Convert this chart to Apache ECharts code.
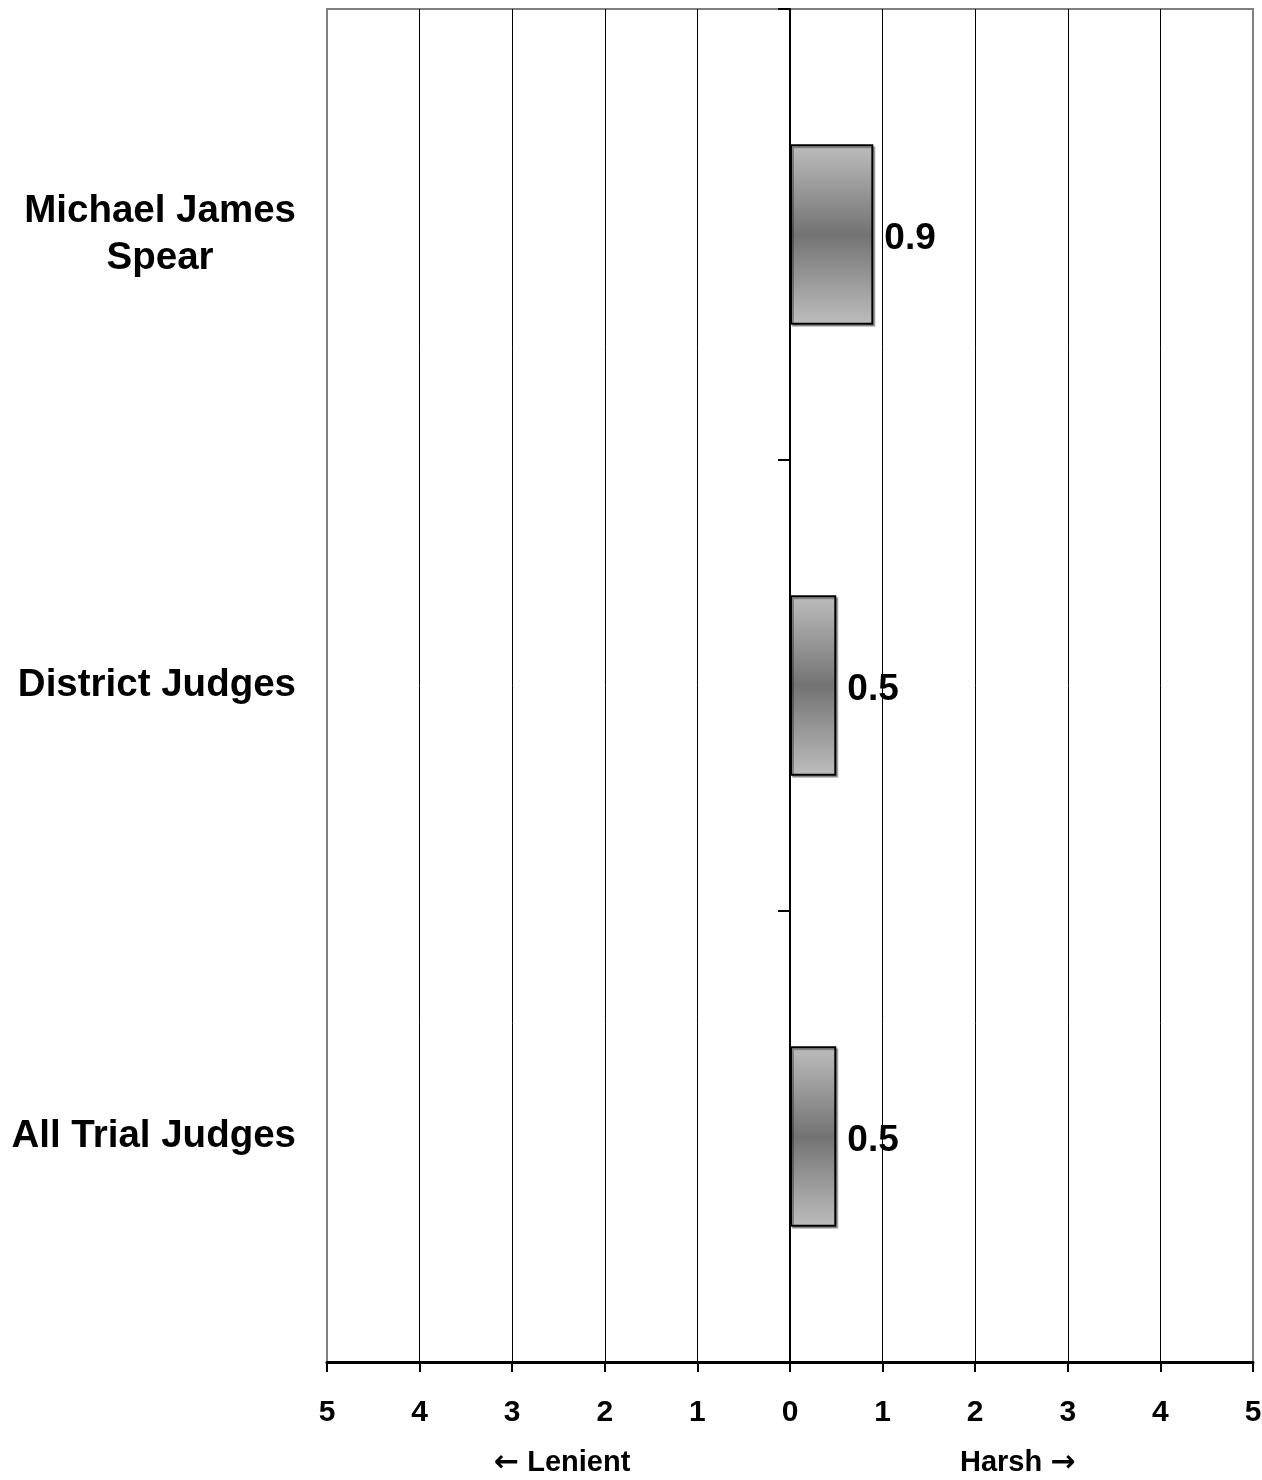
<!DOCTYPE html>
<html>
<head>
<meta charset="utf-8">
<script src="https://cdn.jsdelivr.net/npm/echarts@6/dist/echarts.min.js"></script>
<style>
html,body{margin:0;padding:0;background:#fff;}
#chart{width:1262px;height:1480px;}
</style>
</head>
<body>
<div id="chart"></div>
<script>
const categories = ['Michael James\nSpear', 'District Judges', 'All Trial Judges'];
const values = [0.9, 0.5, 0.5];
const tickMin = -5, tickMax = 5, tickStep = 1;
const directionLabels = [['\u2190', ' Lenient'], ['Harsh ', '\u2192']];

const FONT = '"Liberation Sans", Arial, sans-serif';
const chart = echarts.init(document.getElementById('chart'));

const richDir = {
  t: { fontSize: 29, fontWeight: 'bold', fontFamily: FONT, fill: '#000', color: '#000' },
  a: { fontSize: 30, fontWeight: 'bold', fontFamily: '"DejaVu Sans", sans-serif', fill: '#000', color: '#000' }
};

const option = {
  backgroundColor: '#ffffff',
  animation: false,
  grid: {
    left: 327, right: 9, top: 9, bottom: 118,
    outerBoundsMode: 'none',
    containLabel: false,
    show: true, borderColor: '#808080', borderWidth: 2, backgroundColor: 'transparent'
  },
  xAxis: {
    type: 'value',
    min: tickMin, max: tickMax, interval: tickStep,
    axisLine: { show: true, onZero: false, lineStyle: { color: '#000', width: 3 } },
    axisTick: { show: true, length: 10, lineStyle: { color: '#000', width: 2 } },
    axisLabel: {
      margin: 36,
      fontSize: 30, fontWeight: 'bold', color: '#000', fontFamily: FONT,
      formatter: v => String(Math.abs(v))
    },
    splitLine: { show: true, showMinLine: false, showMaxLine: false, lineStyle: { color: '#000', width: 1 } }
  },
  yAxis: [
    {
      type: 'category', data: categories, inverse: true, position: 'left',
      axisLine: { show: false, onZero: false }, axisTick: { show: false },
      axisLabel: {
        margin: 31, align: 'right',
        formatter: v => v.split('\n').map(s => '{c|' + s + '}').join('\n'),
        rich: {
          c: { fontSize: 38.5, fontWeight: 'bold', color: '#000', fontFamily: FONT, align: 'center', lineHeight: 47 }
        }
      },
      splitLine: { show: false }
    },
    {
      type: 'category', data: categories, inverse: true, position: 'right',
      axisLine: { show: true, onZero: true, onZeroAxisIndex: 0, lineStyle: { color: '#000', width: 2 } },
      axisTick: { show: true, inside: true, length: 12, lineStyle: { color: '#000', width: 2 } },
      axisLabel: { show: false },
      splitLine: { show: false }
    }
  ],
  series: [{
    type: 'bar',
    yAxisIndex: 0,
    data: values,
    barWidth: '40%',
    itemStyle: {
      color: new echarts.graphic.LinearGradient(0, 0, 0, 1, [
        { offset: 0, color: '#bdbdbd' },
        { offset: 0.5, color: '#737373' },
        { offset: 1, color: '#bdbdbd' }
      ]),
      borderColor: '#000', borderWidth: 2,
      shadowColor: 'rgba(0,0,0,0.3)', shadowOffsetX: 2, shadowOffsetY: 2, shadowBlur: 0
    },
    label: {
      show: true, position: 'right', distance: 11, offset: [0, 4],
      fontSize: 37, fontWeight: 'bold', color: '#000', fontFamily: FONT,
      formatter: p => String(p.value)
    },
    z: 3
  }],
  graphic: [
    { type: 'text', left: 494, top: 1448, style: { text: '{a|' + directionLabels[0][0] + '}{t|' + directionLabels[0][1] + '}', rich: richDir } },
    { type: 'text', left: 960, top: 1448, style: { text: '{t|' + directionLabels[1][0] + '}{a|' + directionLabels[1][1] + '}', rich: richDir } }
  ]
};
chart.setOption(option);
</script>
</body>
</html>
